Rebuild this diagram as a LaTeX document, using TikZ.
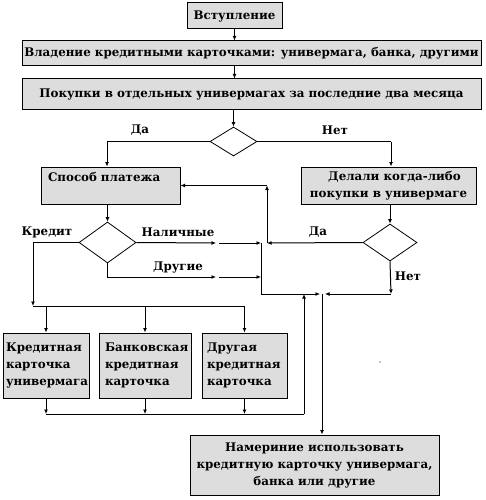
\documentclass[tikz,border=0pt]{standalone}
\usepackage{fontspec}
\setmainfont{DejaVu Serif}
\usetikzlibrary{shapes.geometric,positioning,arrows.meta}
\definecolor{boxgray}{RGB}{221,221,221}

\begin{document}
\begin{tikzpicture}[x=1pt, y=-1pt,
    box/.style={rectangle, draw=black, fill=boxgray, line width=1pt, inner sep=2pt, font=\bfseries\fontsize{11.85}{17}\selectfont},
    decision/.style={diamond, draw=black, line width=0.8pt, inner sep=0pt},
    arrow/.style={-{Latex[length=4.5pt,width=4pt]}, line width=1pt},
    line/.style={line width=1pt},
    lbl/.style={font=\bfseries\fontsize{11.85}{17}\selectfont, inner sep=0pt},
    node distance=12pt
]
\useasboundingbox (0,0) rectangle (486,500);

% top of the chart
\node[box, minimum width=95pt, minimum height=26pt] (intro) at (234.5,16) {Вступление};
\node[box, minimum width=459pt, minimum height=25pt] (own) at (251.5,53.5) {Владение кредитными карточками: универмага, банка, другими};
\node[box, minimum width=459pt, minimum height=31pt, below=12pt of own] (buy) {Покупки в отдельных универмагах за последние два месяца};
\node[decision, minimum width=47pt, minimum height=29pt] (ask) at (233.5,141.5) {};

% second level
\node[box, minimum width=139pt, minimum height=37pt, align=left, text width=125pt] (pay) at (110.5,185.5) {Способ платежа\\~};
\node[box, minimum width=175pt, minimum height=37pt, align=center, inner sep=1pt] (ever) at (388.5,185.5) {\hspace*{12pt}Делали когда-либо\\покупки в универмаге};
\node[decision, minimum width=57pt, minimum height=41pt] (how) at (107.5,242.5) {};
\node[decision, minimum width=54pt, minimum height=37pt] (evask) at (390,242.5) {};

% card boxes
\node[box, minimum width=86pt, minimum height=65pt, align=left, text width=80pt] (store) at (46,365.5) {Кредитная\\карточка\\универмага};
\node[box, minimum width=92pt, minimum height=65pt, align=left, text width=80pt] (bank) at (145,365.5) {Банковская\\кредитная\\карточка};
\node[box, minimum width=85pt, minimum height=65pt, align=left, text width=75pt] (other) at (244.5,365.5) {Другая\\кредитная\\карточка};
\node[box, minimum width=249pt, minimum height=60pt, align=center] (intent) at (314.5,465) {Намериние использовать\\кредитную карточку универмага,\\банка или другие};

% labels
\node[lbl] (lyes) at (140,130) {Да};
\node[lbl] (lno) at (335,130) {Нет};
\node[lbl] (lcredit) at (47,232) {Кредит};
\node[lbl] (lcash) at (178,232) {Наличные};
\node[lbl] (lother) at (178,267) {Другие};
\node[lbl] (lyes2) at (318,232) {Да};
\node[lbl] (lno2) at (408,276) {Нет};

% junction points
\coordinate (yesC) at (107,141.5);
\coordinate (noC) at (391,141.5);
\coordinate (cashA) at (216,243);
\coordinate (cashB) at (219,243);
\coordinate (cashC) at (261,243);
\coordinate (othA) at (216,277);
\coordinate (othB) at (219,277);
\coordinate (othC) at (261,277);
\coordinate (mergeL) at (261,294);
\coordinate (mergeA) at (320,294);
\coordinate (mergeM) at (322,294);
\coordinate (mergeB) at (325,294);
\coordinate (noB) at (391,294);
\coordinate (loopB) at (267,243);
\coordinate (loopT) at (267,185.5);
\coordinate (credB) at (33,306);
\coordinate (busR) at (245,306);
\coordinate (backB) at (304,414);
\coordinate (backT) at (304,294);

% top arrows
\draw[arrow] (intro) -- (intro.south |- own.north);
\draw[arrow] (intro.south |- own.south) -- (intro.south |- buy.north);
\draw[arrow] (ask.north |- buy.south) -- (ask.north);
\draw[line] (ask.west) -- (yesC);
\draw[arrow] (yesC) -- (yesC |- pay.north);
\draw[line] (ask.east) -- (noC);
\draw[arrow] (noC) -- (noC |- ever.north);

% payment branch
\draw[arrow] (how.north |- pay.south) -- (how.north);
\draw[arrow] (how.east) -- (cashA);
\draw[arrow] (cashB) -- (cashC);
\draw[arrow] (how.south) |- (othA);
\draw[arrow] (othB) -- (othC);
\draw[line] (cashC) -- (mergeL);
\draw[arrow] (mergeL) -- (mergeA);
\draw[arrow] (how.west) -| (credB);
\draw[line] (credB) -- (busR);
\draw[arrow] (store.north |- credB) -- (store.north);
\draw[arrow] (bank.north |- credB) -- (bank.north);
\draw[arrow] (other.north |- credB) -- (other.north);

% back from the cards
\draw[arrow] (store.south) -- (store.south |- backB);
\draw[arrow] (bank.south) -- (bank.south |- backB);
\draw[arrow] (other.south) -- (other.south |- backB);
\draw[line] (store.south |- backB) -- (backB);
\draw[arrow] (backB) -- (backT);

% right branch
\draw[arrow] (evask.north |- ever.south) -- (evask.north);
\draw[arrow] (evask.west) -- (loopB);
\draw[arrow] (loopB) -- (loopT);
\draw[arrow] (loopT) -- (pay.east);
\draw[arrow] (evask.south) -- (noB);
\draw[arrow] (noB) -- (mergeB);
\draw[arrow] (mergeM) -- (mergeM |- intent.north);

\fill (380,362) circle (0.6pt);

\end{tikzpicture}
\end{document}
